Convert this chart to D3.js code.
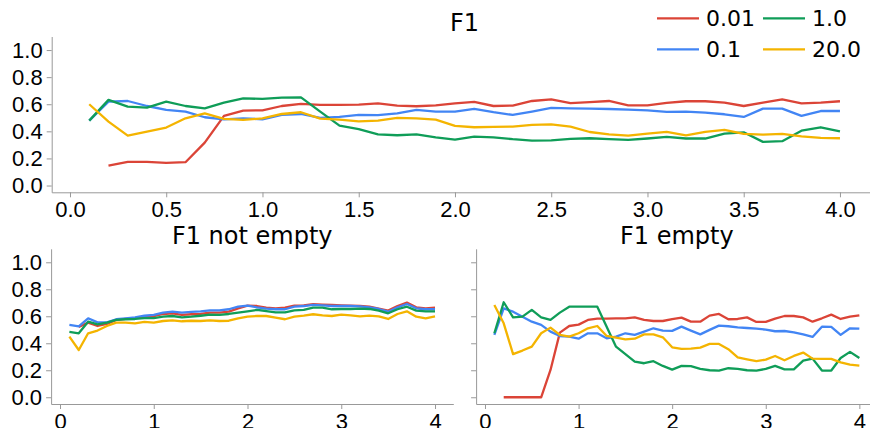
<!DOCTYPE html>
<html>
<head>
<meta charset="utf-8">
<script src="https://d3js.org/d3.v7.min.js"></script>
<style>
  body { margin: 0; background: #fff; }
  svg { font-family: "DejaVu Sans", sans-serif; }
  .axis path, .axis line { stroke: #999; }
  .axis text { fill: #000; font-size: 22px; }
</style>
</head>
<body>
<script>
// x positions shared by every panel
var xs = [0.1, 0.2, 0.3, 0.4, 0.5, 0.6, 0.7, 0.8, 0.9, 1.0,
          1.1, 1.2, 1.3, 1.4, 1.5, 1.6, 1.7, 1.8, 1.9, 2.0,
          2.1, 2.2, 2.3, 2.4, 2.5, 2.6, 2.7, 2.8, 2.9, 3.0,
          3.1, 3.2, 3.3, 3.4, 3.5, 3.6, 3.7, 3.8, 3.9, 4.0];

var seriesNames = ["0.01", "0.1", "1.0", "20.0"];
var seriesColors = ["#db4437", "#4285f4", "#0f9d58", "#f4b400"];

// F1
var f1_001 = [null, 0.147, 0.175, 0.175, 0.167, 0.172, 0.317, 0.514, 0.553, 0.555,
              0.587, 0.602, 0.595, 0.595, 0.597, 0.607, 0.590, 0.585, 0.592, 0.607,
              0.617, 0.587, 0.590, 0.624, 0.636, 0.608, 0.615, 0.624, 0.592, 0.592,
              0.610, 0.622, 0.622, 0.612, 0.587, 0.612, 0.636, 0.607, 0.612, 0.622];
var f1_01  = [0.479, 0.619, 0.624, 0.587, 0.558, 0.546, 0.504, 0.489, 0.496, 0.489,
              0.521, 0.528, 0.500, 0.506, 0.521, 0.519, 0.533, 0.558, 0.546, 0.546,
              0.565, 0.541, 0.521, 0.546, 0.573, 0.570, 0.568, 0.565, 0.560, 0.555,
              0.543, 0.546, 0.538, 0.526, 0.506, 0.568, 0.568, 0.514, 0.550, 0.550];
var f1_1   = [0.479, 0.632, 0.582, 0.575, 0.619, 0.587, 0.570, 0.612, 0.644, 0.639,
              0.649, 0.651, 0.545, 0.442, 0.417, 0.378, 0.371, 0.378, 0.356, 0.339,
              0.361, 0.356, 0.342, 0.332, 0.334, 0.345, 0.349, 0.342, 0.337, 0.347,
              0.359, 0.347, 0.347, 0.383, 0.393, 0.322, 0.327, 0.405, 0.430, 0.400];
var f1_20  = [0.600, 0.472, 0.368, 0.398, 0.428, 0.496, 0.533, 0.492, 0.484, 0.496,
              0.528, 0.541, 0.494, 0.487, 0.474, 0.479, 0.499, 0.496, 0.486, 0.440,
              0.430, 0.433, 0.435, 0.447, 0.452, 0.435, 0.395, 0.378, 0.368, 0.383,
              0.396, 0.371, 0.396, 0.410, 0.381, 0.376, 0.381, 0.363, 0.351, 0.349];

// F1 not empty
var ne_001 = [null, 0.520, 0.553, 0.528, 0.543, 0.573, 0.580, 0.585, 0.597, 0.602,
              0.617, 0.622, 0.610, 0.615, 0.617, 0.627, 0.627, 0.634, 0.659, 0.679,
              0.676, 0.664, 0.659, 0.664, 0.679, 0.681, 0.689, 0.686, 0.684, 0.681,
              0.679, 0.676, 0.671, 0.657, 0.642, 0.676, 0.701, 0.666, 0.659, 0.664];
var ne_01  = [0.536, 0.525, 0.585, 0.555, 0.555, 0.578, 0.585, 0.592, 0.604, 0.610,
              0.627, 0.634, 0.627, 0.632, 0.637, 0.644, 0.644, 0.652, 0.671, 0.679,
              0.666, 0.657, 0.652, 0.652, 0.671, 0.676, 0.684, 0.681, 0.676, 0.676,
              0.676, 0.674, 0.666, 0.654, 0.634, 0.666, 0.691, 0.659, 0.652, 0.652];
var ne_1   = [0.484, 0.474, 0.560, 0.540, 0.553, 0.573, 0.578, 0.580, 0.587, 0.587,
              0.597, 0.602, 0.592, 0.597, 0.604, 0.612, 0.610, 0.617, 0.627, 0.637,
              0.647, 0.639, 0.629, 0.629, 0.644, 0.647, 0.664, 0.664, 0.652, 0.654,
              0.654, 0.657, 0.654, 0.642, 0.622, 0.652, 0.671, 0.642, 0.637, 0.637];
var ne_20  = [0.449, 0.350, 0.474, 0.494, 0.528, 0.553, 0.553, 0.548, 0.558, 0.553,
              0.565, 0.570, 0.563, 0.567, 0.565, 0.570, 0.565, 0.567, 0.585, 0.597,
              0.602, 0.602, 0.590, 0.578, 0.597, 0.605, 0.615, 0.607, 0.602, 0.612,
              0.607, 0.600, 0.605, 0.600, 0.580, 0.617, 0.637, 0.597, 0.585, 0.600];

// F1 empty
var em_001 = [null, 0.0, 0.0, 0.0, 0.0, 0.0, 0.202, 0.479, 0.528, 0.538,
              0.573, 0.583, 0.583, 0.585, 0.585, 0.592, 0.573, 0.565, 0.565, 0.579,
              0.590, 0.560, 0.560, 0.605, 0.617, 0.578, 0.580, 0.592, 0.558, 0.558,
              0.583, 0.602, 0.602, 0.592, 0.560, 0.585, 0.612, 0.580, 0.597, 0.607];
var em_01  = [0.462, 0.659, 0.634, 0.597, 0.560, 0.536, 0.486, 0.454, 0.449, 0.434,
              0.474, 0.474, 0.437, 0.449, 0.474, 0.462, 0.486, 0.511, 0.494, 0.492,
              0.523, 0.494, 0.466, 0.499, 0.531, 0.526, 0.518, 0.513, 0.508, 0.501,
              0.489, 0.491, 0.481, 0.466, 0.447, 0.523, 0.521, 0.462, 0.511, 0.508];
var em_1   = [0.474, 0.704, 0.592, 0.597, 0.647, 0.592, 0.573, 0.627, 0.671, 0.671,
              0.671, 0.671, 0.523, 0.375, 0.320, 0.264, 0.252, 0.267, 0.232, 0.205,
              0.232, 0.230, 0.210, 0.200, 0.198, 0.215, 0.210, 0.200, 0.198, 0.210,
              0.232, 0.207, 0.207, 0.272, 0.286, 0.198, 0.198, 0.291, 0.336, 0.291];
var em_20  = [0.684, 0.548, 0.320, 0.346, 0.375, 0.474, 0.516, 0.462, 0.449, 0.474,
              0.511, 0.528, 0.454, 0.442, 0.429, 0.434, 0.466, 0.466, 0.444, 0.370,
              0.358, 0.360, 0.368, 0.395, 0.395, 0.356, 0.296, 0.281, 0.267, 0.279,
              0.306, 0.274, 0.306, 0.331, 0.286, 0.284, 0.284, 0.259, 0.242, 0.235];

var topXTicks = [0.0, 0.5, 1.0, 1.5, 2.0, 2.5, 3.0, 3.5, 4.0];
var subXTicks = [0, 1, 2, 3, 4];
var yTicks = [0.0, 0.2, 0.4, 0.6, 0.8, 1.0];

var svg = d3.select("body").append("svg")
    .attr("width", 870).attr("height", 428);

function drawPanel(p) {
  var x = d3.scaleLinear().domain([-0.095, 4.195]).range([p.left, p.right]);
  var y = d3.scaleLinear().domain([-0.05, 1.1]).range([p.bottom, p.top]);
  var g = svg.append("g");

  g.append("g").attr("class", "axis")
    .attr("transform", "translate(0," + p.bottom + ")")
    .call(d3.axisBottom(x).tickValues(p.xticks).tickFormat(d3.format(p.xfmt))
      .tickSizeInner(5).tickSizeOuter(0).tickPadding(4));

  var ya = d3.axisLeft(y).tickValues(yTicks).tickSizeInner(5).tickSizeOuter(0).tickPadding(4);
  ya.tickFormat(p.ylabels ? d3.format(".1f") : function() { return ""; });
  g.append("g").attr("class", "axis")
    .attr("transform", "translate(" + p.left + ",0)")
    .call(ya);

  var line = d3.line()
    .defined(function(d) { return d[1] != null; })
    .x(function(d) { return x(d[0]); })
    .y(function(d) { return y(d[1]); });

  p.series.forEach(function(vals, i) {
    g.append("path")
      .datum(xs.map(function(v, j) { return [v, vals[j]]; }))
      .attr("fill", "none")
      .attr("stroke", seriesColors[i])
      .attr("stroke-width", 2.3)
      .attr("stroke-linejoin", "round")
      .attr("d", line);
  });

  g.append("text")
    .attr("x", (p.left + p.right) / 2)
    .attr("y", p.titleY)
    .attr("text-anchor", "middle")
    .style("font-size", "24px")
    .text(p.title);
}

drawPanel({left: 51.7, right: 877.5, top: 36.5, bottom: 192.3,
           xticks: topXTicks, xfmt: ".1f", ylabels: true,
           title: "F1", titleY: 31,
           series: [f1_001, f1_01, f1_1, f1_20]});

drawPanel({left: 51.1, right: 453.3, top: 248.8, bottom: 404,
           xticks: subXTicks, xfmt: "d", ylabels: true,
           title: "F1 not empty", titleY: 244,
           series: [ne_001, ne_01, ne_1, ne_20]});

drawPanel({left: 476.1, right: 877.6, top: 248.8, bottom: 404,
           xticks: subXTicks, xfmt: "d", ylabels: false,
           title: "F1 empty", titleY: 244,
           series: [em_001, em_01, em_1, em_20]});

// legend, two columns
var legendPos = [[657, 18.3], [657, 49.3], [763, 18.3], [763, 49.3]];
var leg = svg.append("g");
seriesNames.forEach(function(name, i) {
  var px = legendPos[i][0], py = legendPos[i][1];
  leg.append("line")
    .attr("x1", px).attr("x2", px + 42)
    .attr("y1", py).attr("y2", py)
    .attr("stroke", seriesColors[i]).attr("stroke-width", 2.3);
  leg.append("text")
    .attr("x", px + 49).attr("y", py + 8)
    .style("font-size", "22px")
    .text(name);
});
</script>
</body>
</html>
